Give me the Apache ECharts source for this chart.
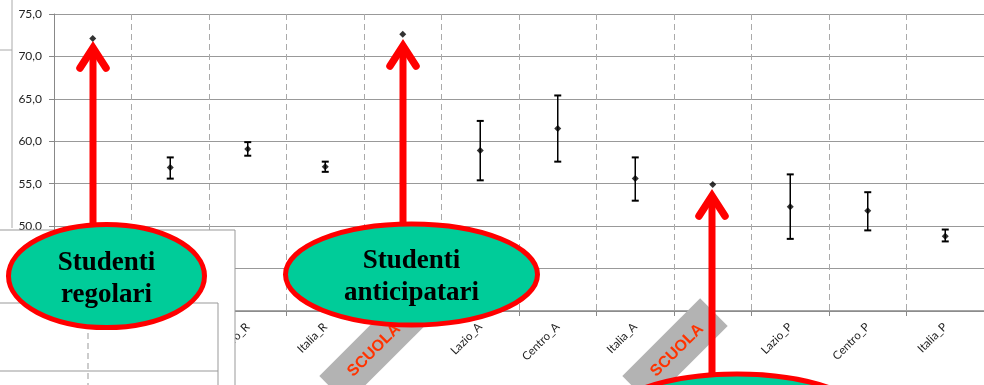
<!DOCTYPE html>
<html>
<head>
<meta charset="utf-8">
<script src="https://cdn.jsdelivr.net/npm/echarts@6/dist/echarts.min.js"></script>
<style>html,body{margin:0;padding:0;background:#fff}#c{width:984px;height:385px}</style>
</head>
<body>
<div id="c"></div>
<script>
// ---- data ----
const categories = ['SCUOLA_R','Lazio_R','Centro_R','Italia_R','SCUOLA_A','Lazio_A','Centro_A','Italia_A','SCUOLA_P','Lazio_P','Centro_P','Italia_P'];
const tickLabels = ['', 'Lazio_R','Centro_R','Italia_R','', 'Lazio_A','Centro_A','Italia_A','', 'Lazio_P','Centro_P','Italia_P'];
const means = [72.1, 56.9, 59.1, 57.0, 72.6, 58.9, 61.5, 55.6, 54.9, 52.3, 51.8, 48.8];
const lower = [null, 55.6, 58.3, 56.4, null, 55.4, 57.6, 53.0, null, 48.5, 49.5, 48.2];
const upper = [null, 58.1, 59.9, 57.6, null, 62.4, 65.4, 58.1, null, 56.1, 54.0, 49.6];
const yTicks = [40, 45, 50, 55, 60, 65, 70, 75];
const ellipseTexts = ['Studenti\nregolari', 'Studenti\nanticipatari', ''];
const schoolText = 'SCUOLA';

const chart = echarts.init(document.getElementById('c'), null, {renderer: 'canvas'});

const errData = categories.map((c, i) => [i, lower[i], upper[i]]).filter(d => d[1] != null);

function arrow(x, yTip, yEnd) {
  return [
    {type: 'line', z: 100, shape: {x1: x, y1: yTip + 4, x2: x, y2: yEnd},
     style: {stroke: '#ff0000', lineWidth: 7}},
    {type: 'polyline', z: 100, shape: {points: [[x - 13, yTip + 24], [x, yTip + 4], [x + 13, yTip + 24]]},
     style: {stroke: '#ff0000', lineWidth: 7.5, lineCap: 'round', lineJoin: 'miter', fill: null}}
  ];
}
function ellipse(cx, cy, rx, ry, text) {
  return {
    type: 'group', z: 110, children: [
      {type: 'ellipse', shape: {cx: cx, cy: cy, rx: rx, ry: ry}, z: 110,
       style: {fill: '#00cc99', stroke: '#ff0000', lineWidth: 5}},
      {type: 'text', z: 111, x: cx, y: cy + 3, style: {text: text, fill: '#000', align: 'center', verticalAlign: 'middle',
        font: 'bold 27px "Liberation Serif", serif', lineHeight: 32}}
    ]
  };
}
function school(cx, cy) {
  return {
    type: 'group', x: cx, y: cy, rotation: Math.PI / 4, z: 95, children: [
      {type: 'rect', shape: {x: -55, y: -19.5, width: 110, height: 39}, z: 95, style: {fill: '#b3b3b3'}},
      {type: 'text', z: 96, x: 2, y: 1, style: {text: schoolText, fill: '#ff3300', align: 'center', verticalAlign: 'middle',
        font: 'bold 16px "Liberation Sans", Arial, sans-serif'}}
    ]
  };
}

const graphics = [
  {type: 'line', z: -5, shape: {x1: 12, y1: 0, x2: 12, y2: 228}, style: {stroke: '#aaa', lineWidth: 1}},
  {type: 'line', z: -5, shape: {x1: 0, y1: 50, x2: 12, y2: 50}, style: {stroke: '#aaa', lineWidth: 1}},
  {type: 'rect', z: 80, shape: {x: -2, y: 230, width: 237, height: 170}, style: {fill: '#fff', stroke: '#999', lineWidth: 1}},
  {type: 'rect', z: 81, shape: {x: -2, y: 303, width: 220, height: 100}, style: {fill: '#fff', stroke: '#999', lineWidth: 1}},
  {type: 'line', z: 82, shape: {x1: 0, y1: 371, x2: 218, y2: 371}, style: {stroke: '#999', lineWidth: 1}},
  {type: 'line', z: 82, shape: {x1: 88, y1: 303, x2: 88, y2: 385}, style: {stroke: '#999', lineWidth: 1, lineDash: [6, 4]}},
  school(372, 351),
  school(675, 351),
  ...arrow(93, 44, 225),
  ...arrow(403, 42, 225),
  ...arrow(712, 192, 380),
  ellipse(106.5, 276, 98, 51.5, ellipseTexts[0]),
  ellipse(411.5, 274.5, 126, 50.5, ellipseTexts[1]),
  ellipse(737, 425, 135, 51, ellipseTexts[2])
];

chart.setOption({
  animation: false,
  backgroundColor: '#fff',
  grid: {left: 54, right: 0, top: 14, bottom: 74, show: false},
  xAxis: {
    type: 'category', data: categories, boundaryGap: true,
    axisLine: {show: true, lineStyle: {color: '#888', width: 1.5}},
    axisTick: {show: true, length: 5, lineStyle: {color: '#888'}},
    axisLabel: {rotate: 45, margin: 14, fontSize: 11.5, color: '#222', fontFamily: 'Lato, "Open Sans", sans-serif',
      formatter: (v, i) => tickLabels[i]},
    splitLine: {show: true, lineStyle: {color: '#aaa', type: [6, 4], width: 1}}
  },
  yAxis: {
    type: 'value', min: yTicks[0], max: yTicks[yTicks.length - 1], interval: 5,
    axisLine: {show: true, lineStyle: {color: '#888', width: 1}},
    axisTick: {show: true, length: 5, lineStyle: {color: '#888'}},
    axisLabel: {margin: 12, fontSize: 12, color: '#222', fontFamily: 'Lato, "Open Sans", sans-serif',
      formatter: v => v.toFixed(1).replace('.', ',')},
    splitLine: {show: true, lineStyle: {color: '#999', width: 1.2}}
  },
  series: [
    {
      type: 'custom', z: 3,
      data: errData,
      renderItem: function (params, api) {
        const x = api.value(0);
        const lo = api.coord([x, api.value(1)]);
        const hi = api.coord([x, api.value(2)]);
        const w = 3.5;
        return {
          type: 'group', children: [
            {type: 'line', shape: {x1: lo[0], y1: lo[1], x2: hi[0], y2: hi[1]}, style: {stroke: '#000', lineWidth: 1.5}},
            {type: 'line', shape: {x1: lo[0] - w, y1: lo[1], x2: lo[0] + w, y2: lo[1]}, style: {stroke: '#000', lineWidth: 2}},
            {type: 'line', shape: {x1: hi[0] - w, y1: hi[1], x2: hi[0] + w, y2: hi[1]}, style: {stroke: '#000', lineWidth: 2}}
          ]
        };
      }
    },
    {
      type: 'scatter', z: 4, symbol: 'diamond', symbolSize: 7,
      itemStyle: {color: '#000'},
      data: means.map((v, i) => [i, v])
    }
  ],
  graphic: graphics
});
</script>
</body>
</html>
